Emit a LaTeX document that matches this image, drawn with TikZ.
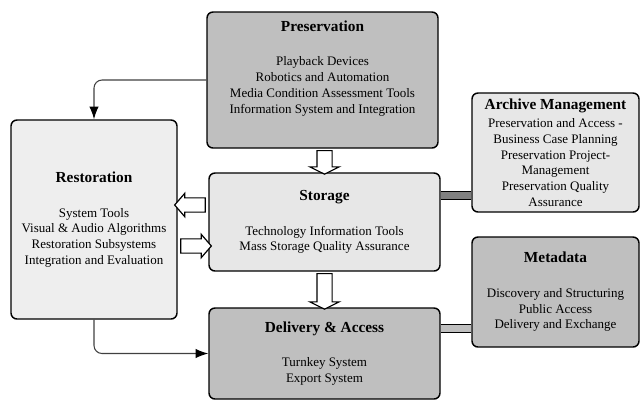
\documentclass[tikz,border=0pt]{standalone}
\usepackage{fontspec}
\setmainfont{Liberation Serif}
\usepackage{tikz}
\usetikzlibrary{shapes.arrows, calc, arrows.meta}
\newcommand{\head}[1]{\textbf{\fontsize{11.5}{14}\selectfont #1}}

\begin{document}
\begin{tikzpicture}[x=0.75pt, y=-0.75pt, >={Latex[length=9.5pt,width=7pt,color=black]},
  box/.style={draw, rounded corners=4.5pt, line width=1.1pt, align=center, inner sep=0pt, font=\fontsize{9.75}{11.8}\selectfont},
  dark/.style={box, fill=gray!50},
  light/.style={box, fill=gray!19},
  hollow/.style={single arrow, draw, fill=white, line width=0.9pt, inner sep=4.9pt, single arrow head extend=3.4pt, minimum width=16.6pt, single arrow tip angle=98, sloped, allow upside down},
  hollowv/.style={hollow, inner sep=5.25pt, single arrow head extend=5.25pt, minimum width=21pt, single arrow tip angle=127},
  link/.style={double distance=5.25pt, line width=0.75pt},
  flow/.style={->, draw=black!75, line width=0.8pt, rounded corners=6pt}]
\useasboundingbox (0,0) rectangle (640,401);
% Cajas
\node[dark, minimum width=173.25pt, minimum height=102pt] (pres) at (322.5,80)
  {\head{Preservation}\\[14pt] Playback Devices\\ Robotics and Automation\\ Media Condition Assessment Tools\\ Information System and Integration\\[7.7pt]\mbox{}};
\node[light, minimum width=173.25pt, minimum height=73.5pt] (stor) at (324.5,222)
  {\head{Storage}\\[14pt] Technology Information Tools\\ Mass Storage Quality Assurance};
\node[box, fill=gray!13, minimum width=124.5pt, minimum height=149.25pt] (rest) at (94,219.5)
  {\head{Restoration}\\[14pt] System Tools\\ Visual \& Audio Algorithms\\ Restoration Subsystems\\ Integration and Evaluation};
\node[dark, minimum width=173.25pt, minimum height=68.25pt] (deliv) at (324.5,353.5)
  {\head{Delivery \& Access}\\[14pt] Turnkey System\\ Export System};
\node[light, minimum width=125.25pt, minimum height=89.25pt] (arch) at (555.5,152.5)
  {\head{Archive Management}\\[2pt] Preservation and Access -\\ Business Case Planning\\ Preservation Project-\\ Management\\ Preservation Quality\\ Assurance};
\node[dark, minimum width=125.25pt, minimum height=82.5pt] (meta) at (555.5,292)
  {\head{Metadata}\\[14pt] Discovery and Structuring\\ Public Access\\ Delivery and Exchange};

% Flechas
\draw[flow] (pres.west) -| (rest.north);
\draw[flow] (rest.south) |- (deliv.west);

\path let \p1=($(stor.north)-(stor.north |- pres.south)$), \n1={veclen(\x1,\y1)} in
  (stor.north |- pres.south) -- node[hollowv, minimum height=\n1] {} (stor.north);
\path let \p1=($(deliv.north)-(stor.south)$), \n1={veclen(\x1,\y1)} in
  (stor.south) -- node[hollowv, minimum height=\n1] {} (deliv.north);

\coordinate (s1) at ($(stor.west)+(0,-17)$);
\coordinate (s2) at ($(stor.west)+(0,24)$);
\path let \p1=($(s1)-(rest.east |- s1)$), \n1={veclen(\x1,\y1)} in
  (s1) -- node[hollow, minimum height=\n1] {} (rest.east |- s1);
\path let \p1=($(s2)-(rest.east |- s2)$), \n1={veclen(\x1,\y1)} in
  (rest.east |- s2) -- node[hollow, minimum height=\n1] {} (s2);

% Enlaces
\coordinate (b1) at ($(stor.east)+(0,-26.5)$);
\coordinate (b2) at ($(deliv.east)+(0,-25.5)$);
\draw[link, double=gray] (b1) -- (b1 -| arch.west);
\draw[link, double=gray!50] (b2) -- (b2 -| meta.west);
\end{tikzpicture}
\end{document}
